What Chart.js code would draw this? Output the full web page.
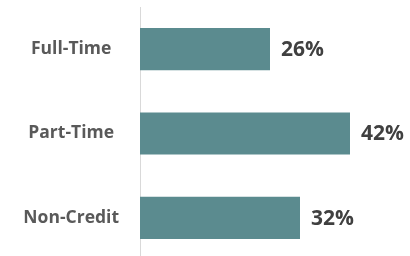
<!DOCTYPE html>
<html><head><meta charset="utf-8">
<script src="https://cdn.jsdelivr.net/npm/chart.js@4.4.1/dist/chart.umd.min.js"></script>
<style>
html,body{margin:0;padding:0;background:#fff;overflow:hidden;}
canvas{display:block;}
</style></head><body>
<canvas id="c" width="410" height="261" style="width:410px;height:261px"></canvas>
<script>
const categories = ["Full-Time", "Part-Time", "Non-Credit"];
const shares = [26, 42, 32];
const valueLabels = ["26%", "42%", "32%"];

const valuePlugin = {
  id: 'valueLabels',
  afterDatasetsDraw(chart) {
    const ctx = chart.ctx;
    const meta = chart.getDatasetMeta(0);
    ctx.save();
    ctx.font = 'bold 21px "Open Sans"';
    ctx.fillStyle = '#404040';
    ctx.textAlign = 'left';
    ctx.textBaseline = 'middle';
    meta.data.forEach((bar, i) => {
      ctx.fillText(valueLabels[i], bar.x + 11, bar.y + 1);
    });
    ctx.restore();
  }
};

new Chart(document.getElementById('c'), {
  type: 'bar',
  data: {
    labels: categories,
    datasets: [{
      data: shares,
      backgroundColor: '#5b8b8f',
      borderWidth: 0,
      categoryPercentage: 0.5,
      barPercentage: 1.0
    }]
  },
  options: {
    indexAxis: 'y',
    responsive: false,
    maintainAspectRatio: false,
    devicePixelRatio: 1,
    animation: false,
    layout: { padding: { top: 7, bottom: 1, left: 0, right: 20 } },
    plugins: { legend: { display: false }, tooltip: { enabled: false } },
    scales: {
      x: { display: false, min: 0, max: 50 },
      y: {
        afterFit(scale) { scale.width = 140; scale.paddingTop = 0; scale.paddingBottom = 0; },
        grid: { display: false, drawTicks: false },
        border: { display: true, color: '#d9d9d9', width: 1 },
        ticks: {
          crossAlign: 'center',
          padding: 21,
          color: '#595959',
          font: { family: '"Open Sans"', size: 17.5, weight: 'bold' }
        }
      }
    }
  },
  plugins: [valuePlugin]
});
</script>
</body></html>
